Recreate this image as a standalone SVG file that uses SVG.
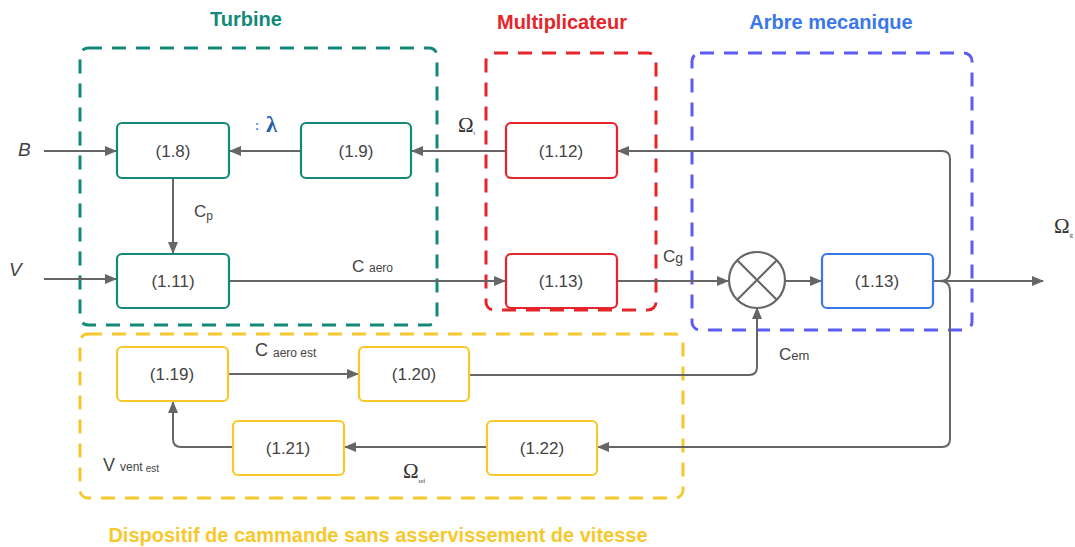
<svg xmlns="http://www.w3.org/2000/svg" width="1075" height="547" viewBox="0 0 1075 547">
  <defs>
    <marker id="arr" viewBox="0 0 12 10" refX="11" refY="5" markerWidth="12" markerHeight="10" markerUnits="userSpaceOnUse" orient="auto">
      <path d="M0,0 L12,5 L0,10 z" fill="#666"/>
    </marker>
    <style>
      .grp { fill: none; stroke-width: 3; stroke-dasharray: 14 10; }
      .node rect { fill: #fff; stroke-width: 2.2; }
      .node text { font-family: "Liberation Sans", Arial, sans-serif; font-size: 17px; fill: #444; text-anchor: middle; }
      .teal { stroke: #13897a; }
      .red { stroke: #e5252a; }
      .blue { stroke: #3b78e7; }
      .yel { stroke: #f7c82c; }
      .wire { fill: none; stroke: #666; stroke-width: 2; }
      .lbl { font-family: "Liberation Sans", Arial, sans-serif; fill: #444; }
      .title { font-family: "Liberation Sans", Arial, sans-serif; font-weight: bold; font-size: 20px; text-anchor: middle; }
      .om { font-family: "Liberation Serif", "Times New Roman", serif; fill: #333; font-size: 21px; }
    </style>
  </defs>

  <!-- Group frames -->
  <g id="frames">
    <rect class="grp teal" x="80" y="48" width="357" height="277" rx="8"/>
    <rect class="grp red" x="486" y="53" width="170" height="257" rx="8"/>
    <rect class="grp" stroke="#5c5cf5" x="692" y="53" width="280" height="277" rx="8"/>
    <rect class="grp yel" x="80" y="334" width="603" height="164" rx="8"/>
    <text class="title" x="246" y="26" fill="#13897a">Turbine</text>
    <text class="title" x="562" y="29" fill="#e5252a">Multiplicateur</text>
    <text class="title" x="831" y="29" fill="#3b78e7">Arbre mecanique</text>
    <text class="title" x="378" y="542" fill="#f7c82c">Dispositif de cammande sans asservissement de vitesse</text>
  </g>

  <!-- Connectors -->
  <g id="connectors">
    <path class="wire" d="M44,151 H116" marker-end="url(#arr)"/>
    <path class="wire" d="M44,279 H116" marker-end="url(#arr)"/>
    <path class="wire" d="M301,151 H230" marker-end="url(#arr)"/>
    <path class="wire" d="M506,151 H412" marker-end="url(#arr)"/>
    <path class="wire" d="M173,178 V253" marker-end="url(#arr)"/>
    <path class="wire" d="M229,281 H505" marker-end="url(#arr)"/>
    <path class="wire" d="M617,281 H728" marker-end="url(#arr)"/>
    <path class="wire" d="M786,281 H821" marker-end="url(#arr)"/>
    <path class="wire" d="M933,281 H1043" marker-end="url(#arr)"/>
    <path class="wire" d="M940,281 Q950,281 950,271 V159 Q950,151 942,151 H618" marker-end="url(#arr)"/>
    <path class="wire" d="M940,281 Q950,281 950,291 V439 Q950,447 942,447 H598" marker-end="url(#arr)"/>
    <path class="wire" d="M228,374 H358" marker-end="url(#arr)"/>
    <path class="wire" d="M469,375 H749 Q757,375 757,367 V308" marker-end="url(#arr)"/>
    <path class="wire" d="M487,447 H345" marker-end="url(#arr)"/>
    <path class="wire" d="M233,447 H181 Q173,447 173,439 V402" marker-end="url(#arr)"/>
  </g>

  <!-- Blocks -->
  <g id="n18" class="node"><rect class="teal" x="117" y="123" width="112" height="55" rx="5"/><text x="173" y="157">(1.8)</text></g>
  <g id="n19" class="node"><rect class="teal" x="301" y="123" width="110" height="55" rx="5"/><text x="356" y="157">(1.9)</text></g>
  <g id="n112" class="node"><rect class="red" x="506" y="123" width="111" height="55" rx="5"/><text x="561" y="157">(1.12)</text></g>
  <g id="n111" class="node"><rect class="teal" x="117" y="254" width="112" height="54" rx="5"/><text x="173" y="287">(1.11)</text></g>
  <g id="n113a" class="node"><rect class="red" x="506" y="254" width="111" height="54" rx="5"/><text x="561" y="287">(1.13)</text></g>
  <g id="mult">
    <circle cx="757" cy="280" r="28" fill="#fff" stroke="#666" stroke-width="2.2"/>
    <path d="M737,260 L777,300 M777,260 L737,300" stroke="#666" stroke-width="2.2"/>
  </g>
  <g id="n113b" class="node"><rect class="blue" x="822" y="254" width="111" height="54" rx="5"/><text x="877" y="287">(1.13)</text></g>
  <g id="n119" class="node"><rect class="yel" x="117" y="347" width="111" height="54" rx="5"/><text x="172" y="380">(1.19)</text></g>
  <g id="n120" class="node"><rect class="yel" x="359" y="347" width="110" height="54" rx="5"/><text x="414" y="380">(1.20)</text></g>
  <g id="n121" class="node"><rect class="yel" x="233" y="421" width="111" height="54" rx="5"/><text x="288" y="454">(1.21)</text></g>
  <g id="n122" class="node"><rect class="yel" x="487" y="421" width="110" height="54" rx="5"/><text x="542" y="454">(1.22)</text></g>

  <!-- Signal labels -->
  <g id="labels">
    <text class="lbl" x="18" y="156" font-size="19" font-style="italic">B</text>
    <text class="lbl" x="9" y="276" font-size="19" font-style="italic">V</text>
    <text class="lbl" x="194" y="217" font-size="17">C<tspan font-size="12" dy="3">p</tspan></text>
    <text class="lbl" x="352" y="272" font-size="17">C <tspan font-size="12">aero</tspan></text>
    <text class="lbl" x="663" y="262" font-size="17">C<tspan font-size="14" dy="1">g</tspan></text>
    <text class="lbl" x="779" y="360" font-size="17">C<tspan font-size="13">em</tspan></text>
    <text class="lbl" x="255" y="356" font-size="18">C <tspan font-size="12" dy="1">aero est</tspan></text>
    <text class="lbl" x="103" y="471" font-size="18">V <tspan font-size="12">vent</tspan><tspan font-size="10" dx="3" dy="1">est</tspan></text>
    <text x="255" y="130" font-family="Liberation Sans, sans-serif" font-size="12" font-weight="bold" fill="#3b78e7">:</text>
    <text x="266" y="132" font-family="Liberation Serif, serif" font-size="23" font-weight="bold" fill="#2a5fa8">λ</text>
    <text class="om" x="458" y="132">Ω<tspan font-size="6" dy="3">t</tspan></text>
    <text class="om" x="1054" y="233">Ω<tspan font-size="7" dy="4">g</tspan></text>
    <text class="om" x="403" y="478">Ω<tspan font-size="6" dy="5">ref</tspan></text>
  </g>
</svg>
